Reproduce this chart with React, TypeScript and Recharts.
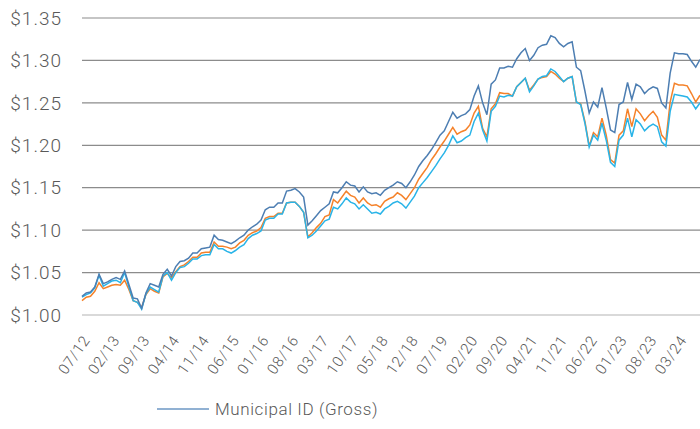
import { LineChart, Line, XAxis, YAxis, CartesianGrid, Legend } from 'recharts';

// monthly, 07/12 .. 08/24
const startYear = 2012;
const startMonth = 7;

const gross = [
  1.022, 1.026, 1.027, 1.033, 1.048, 1.037, 1.039, 1.042, 1.044, 1.042,
  1.052, 1.036, 1.020, 1.019, 1.008, 1.026, 1.037, 1.035, 1.033, 1.048,
  1.054, 1.046, 1.057, 1.063, 1.064, 1.067, 1.073, 1.073, 1.078, 1.079,
  1.080, 1.094, 1.089, 1.088, 1.086, 1.084, 1.087, 1.091, 1.094, 1.100,
  1.104, 1.107, 1.112, 1.124, 1.127, 1.127, 1.132, 1.132, 1.146, 1.147,
  1.149, 1.145, 1.139, 1.106, 1.111, 1.117, 1.123, 1.127, 1.131, 1.145,
  1.144, 1.150, 1.157, 1.153, 1.152, 1.145, 1.151, 1.145, 1.143, 1.144,
  1.141, 1.147, 1.150, 1.153, 1.157, 1.155, 1.150, 1.157, 1.165, 1.175,
  1.182, 1.188, 1.195, 1.203, 1.212, 1.217, 1.228, 1.239, 1.232, 1.235,
  1.237, 1.242, 1.258, 1.270, 1.250, 1.236, 1.272, 1.277, 1.291, 1.291,
  1.293, 1.292, 1.302, 1.309, 1.314, 1.300, 1.306, 1.315, 1.318, 1.319,
  1.329, 1.327, 1.320, 1.316, 1.320, 1.322, 1.292, 1.288, 1.264, 1.238,
  1.251, 1.245, 1.268, 1.244, 1.218, 1.215, 1.248, 1.251, 1.274, 1.254,
  1.272, 1.269, 1.261, 1.266, 1.269, 1.267, 1.250, 1.244, 1.285, 1.309,
  1.308, 1.308, 1.307, 1.299, 1.292, 1.301,
];

const orange = [
  1.017, 1.021, 1.022, 1.028, 1.038, 1.031, 1.033, 1.035, 1.036, 1.035,
  1.041, 1.030, 1.017, 1.015, 1.009, 1.024, 1.031, 1.028, 1.026, 1.045,
  1.049, 1.044, 1.051, 1.057, 1.059, 1.063, 1.068, 1.068, 1.073, 1.074,
  1.074, 1.086, 1.081, 1.081, 1.080, 1.078, 1.080, 1.085, 1.088, 1.094,
  1.097, 1.099, 1.103, 1.114, 1.116, 1.116, 1.120, 1.120, 1.132, 1.133,
  1.133, 1.128, 1.121, 1.092, 1.097, 1.103, 1.108, 1.116, 1.118, 1.136,
  1.132, 1.139, 1.146, 1.141, 1.139, 1.132, 1.138, 1.132, 1.129, 1.130,
  1.127, 1.134, 1.137, 1.139, 1.144, 1.141, 1.136, 1.143, 1.150, 1.160,
  1.167, 1.174, 1.183, 1.190, 1.198, 1.205, 1.213, 1.221, 1.213, 1.216,
  1.218, 1.224, 1.238, 1.246, 1.220, 1.210, 1.243, 1.249, 1.262, 1.261,
  1.261, 1.258, 1.269, 1.274, 1.279, 1.265, 1.271, 1.278, 1.280, 1.281,
  1.287, 1.284, 1.279, 1.275, 1.279, 1.281, 1.251, 1.249, 1.228, 1.199,
  1.215, 1.210, 1.232, 1.212, 1.183, 1.179, 1.212, 1.217, 1.243, 1.222,
  1.243, 1.237, 1.229, 1.235, 1.240, 1.233, 1.212, 1.206, 1.251, 1.273,
  1.271, 1.271, 1.270, 1.261, 1.251, 1.259,
];

const lightBlue = [
  1.021, 1.024, 1.026, 1.032, 1.047, 1.034, 1.037, 1.040, 1.041, 1.038,
  1.050, 1.033, 1.017, 1.015, 1.007, 1.025, 1.033, 1.030, 1.027, 1.046,
  1.050, 1.041, 1.050, 1.056, 1.057, 1.061, 1.066, 1.066, 1.070, 1.071,
  1.071, 1.083, 1.078, 1.078, 1.075, 1.073, 1.076, 1.080, 1.083, 1.090,
  1.094, 1.096, 1.099, 1.112, 1.114, 1.114, 1.119, 1.119, 1.132, 1.133,
  1.133, 1.128, 1.121, 1.091, 1.094, 1.099, 1.105, 1.111, 1.113, 1.127,
  1.125, 1.131, 1.138, 1.133, 1.131, 1.125, 1.130, 1.125, 1.120, 1.121,
  1.119, 1.125, 1.128, 1.132, 1.134, 1.131, 1.126, 1.133, 1.140, 1.150,
  1.156, 1.162, 1.169, 1.176, 1.184, 1.191, 1.200, 1.211, 1.203, 1.205,
  1.209, 1.212, 1.228, 1.238, 1.218, 1.205, 1.240, 1.246, 1.258, 1.257,
  1.259, 1.258, 1.269, 1.274, 1.279, 1.263, 1.270, 1.278, 1.281, 1.282,
  1.290, 1.287, 1.281, 1.275, 1.279, 1.281, 1.251, 1.248, 1.226, 1.198,
  1.212, 1.206, 1.226, 1.206, 1.180, 1.175, 1.206, 1.212, 1.232, 1.210,
  1.230, 1.225, 1.217, 1.222, 1.225, 1.222, 1.204, 1.199, 1.240, 1.260,
  1.259, 1.258, 1.257, 1.251, 1.243, 1.250,
];

const yTicks = [1.0, 1.05, 1.1, 1.15, 1.2, 1.25, 1.3, 1.35];

const monthLabel = (i: number) => {
  const t = startMonth - 1 + i;
  const m = (t % 12) + 1;
  const y = (startYear + Math.floor(t / 12)) % 100;
  return `${String(m).padStart(2, '0')}/${String(y).padStart(2, '0')}`;
};

const data = gross.map((g, i) => ({
  m: monthLabel(i),
  gross: g,
  orange: orange[i],
  lightBlue: lightBlue[i],
}));

const FONT = 'Roboto, "Liberation Sans", sans-serif';

const renderLegend = () => (
  <div style={{ display: 'flex', alignItems: 'center', paddingLeft: 157, height: 24, fontFamily: FONT }}>
    <svg width={52} height={10} style={{ marginRight: 6 }}>
      <line x1={0} y1={5} x2={52} y2={5} stroke="#6d97c4" strokeWidth={1.5} />
    </svg>
    <span style={{ fontSize: 17, fontWeight: 300, color: '#595959', letterSpacing: 0.6 }}>Municipal ID (Gross)</span>
  </div>
);

export default function App() {
  return (
    <div style={{ position: 'absolute', left: 0, top: 0 }}>
      <LineChart width={700} height={429} data={data} margin={{ top: 18, right: 0, bottom: 8, left: 0 }}>
        <CartesianGrid vertical={false} stroke="#8c8c8c" strokeWidth={1.2} />
        <XAxis
          dataKey="m"
          interval={6}
          tickLine={false}
          axisLine={{ stroke: '#d9d9d9', strokeWidth: 2 }}
          height={82}
          tickMargin={13}
          angle={-55}
          textAnchor="end"
          tick={{ fontSize: 15, fill: '#595959', fontFamily: FONT, fontWeight: 300, letterSpacing: 0.8 }}
        />
        <YAxis
          domain={[1.0, 1.35]}
          ticks={yTicks}
          width={82}
          axisLine={false}
          tickLine={false}
          tickMargin={14}
          tickFormatter={(v: number) => `$${v.toFixed(2)}`}
          tick={{ fontSize: 19, fill: '#595959', fontFamily: FONT, fontWeight: 300, letterSpacing: 1 }}
        />
        <Legend verticalAlign="bottom" height={24} content={renderLegend} />
        <Line type="linear" dataKey="orange" stroke="#f5822a" strokeWidth={1.5} dot={false} isAnimationActive={false} />
        <Line type="linear" dataKey="lightBlue" stroke="#29b4e8" strokeWidth={1.5} dot={false} isAnimationActive={false} />
        <Line type="linear" dataKey="gross" stroke="#4d7eb2" strokeWidth={1.5} dot={false} isAnimationActive={false} />
      </LineChart>
    </div>
  );
}
